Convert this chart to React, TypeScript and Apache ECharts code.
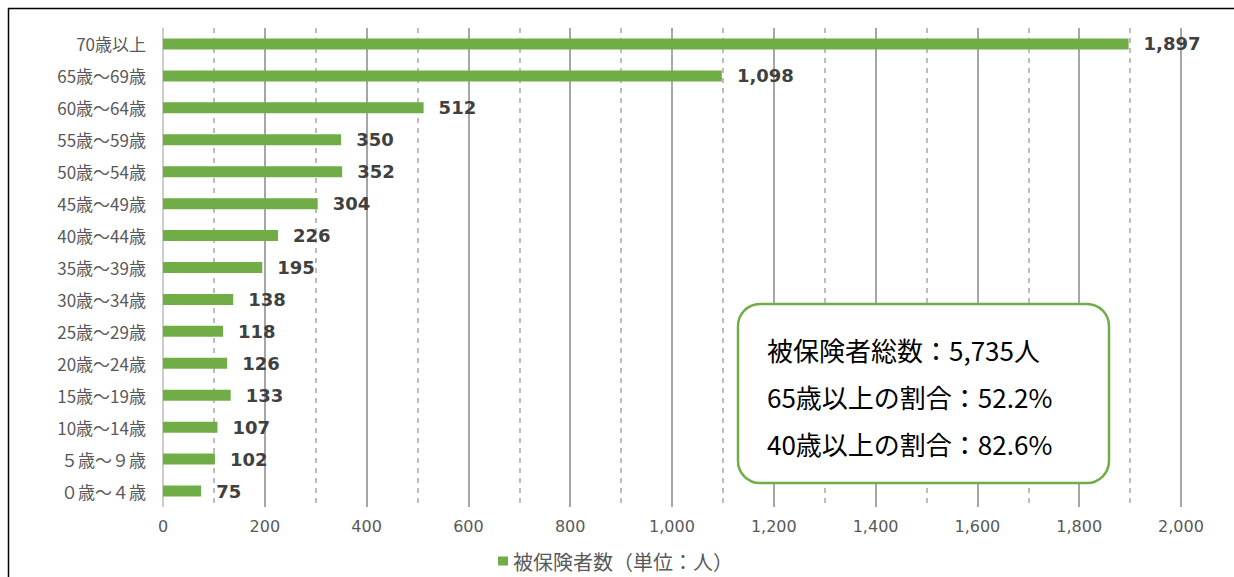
import React, { useEffect, useRef } from "react";
import * as echarts from "echarts";

const categories = [
  "70歳以上",
  "65歳～69歳",
  "60歳～64歳",
  "55歳～59歳",
  "50歳～54歳",
  "45歳～49歳",
  "40歳～44歳",
  "35歳～39歳",
  "30歳～34歳",
  "25歳～29歳",
  "20歳～24歳",
  "15歳～19歳",
  "10歳～14歳",
  "５歳～９歳",
  "０歳～４歳",
];
const values = [1897, 1098, 512, 350, 352, 304, 226, 195, 138, 118, 126, 133, 107, 102, 75];
const seriesName = "被保険者数（単位：人）";
const summaryLines = [
  "被保険者総数：5,735人",
  "65歳以上の割合：52.2%",
  "40歳以上の割合：82.6%",
];

export default function App() {
  const ref = useRef<HTMLDivElement>(null);
  useEffect(() => {
    if (!ref.current) return;
    const chart = echarts.init(ref.current, undefined, { renderer: "svg" });
    const jp = "'Noto Sans CJK JP', 'Noto Sans', sans-serif";
    chart.setOption({
      animation: false,
      backgroundColor: "#ffffff",
      grid: { left: 163, right: 53, top: 28, bottom: 70, containLabel: false },
      legend: {
        left: 493,
        top: 546,
        itemWidth: 10,
        itemHeight: 9,
        itemGap: 7,
        icon: "rect",
        textStyle: { fontFamily: jp, fontSize: 20, color: "#595959" },
        data: [seriesName],
      },
      xAxis: {
        type: "value",
        min: 0,
        max: 2000,
        interval: 200,
        axisLine: { show: false },
        axisTick: { show: false },
        axisLabel: {
          margin: 11,
          fontFamily: "'DejaVu Sans', sans-serif",
          fontSize: 16,
          color: "#595959",
          formatter: (v: number) => v.toLocaleString("en-US"),
        },
        splitLine: { show: true, lineStyle: { color: "#888888", width: 1.5 } },
        minorTick: { show: false, splitNumber: 2 },
        minorSplitLine: { show: true, lineStyle: { color: "#a6a6a6", width: 1.5, type: [5, 5] } },
      },
      yAxis: {
        type: "category",
        inverse: true,
        data: categories,
        axisLine: { show: true, lineStyle: { color: "#d9d9d9", width: 1.5 } },
        axisTick: { show: false },
        axisLabel: { margin: 17, fontFamily: jp, fontSize: 17, color: "#595959" },
        splitLine: { show: false },
      },
      series: [
        {
          name: seriesName,
          type: "bar",
          data: values,
          barWidth: 11,
          itemStyle: { color: "#70ad47" },
          label: {
            show: true,
            position: "right",
            distance: 15,
            fontFamily: "'DejaVu Sans', sans-serif",
            fontWeight: "bold",
            fontSize: 18,
            color: "#404040",
            formatter: (p: any) => Number(p.value).toLocaleString("en-US"),
          },
        },
      ],
      graphic: [
        { type: "line", shape: { x1: 8, y1: 8.5, x2: 1234, y2: 8.5 }, style: { stroke: "#000", lineWidth: 1.5 } },
        { type: "line", shape: { x1: 8.5, y1: 8, x2: 8.5, y2: 577 }, style: { stroke: "#000", lineWidth: 1.5 } },
        {
          type: "rect",
          shape: { x: 738, y: 304, width: 371, height: 179, r: 22 },
          style: { fill: "#ffffff", stroke: "#70ad47", lineWidth: 2.5 },
          z: 100,
        },
        ...summaryLines.map((t, i) => ({
          type: "text",
          x: 767,
          y: 349 + i * 47,
          z: 101,
          style: {
            text: t,
            fontFamily: jp,
            fontSize: 26,
            fill: "#000000",
            verticalAlign: "middle",
            textAlign: "left",
          },
        })),
      ],
    });
    return () => chart.dispose();
  }, []);
  return (
    <div
      ref={ref}
      style={{ position: "fixed", left: 0, top: 0, width: 1234, height: 577 }}
    />
  );
}
